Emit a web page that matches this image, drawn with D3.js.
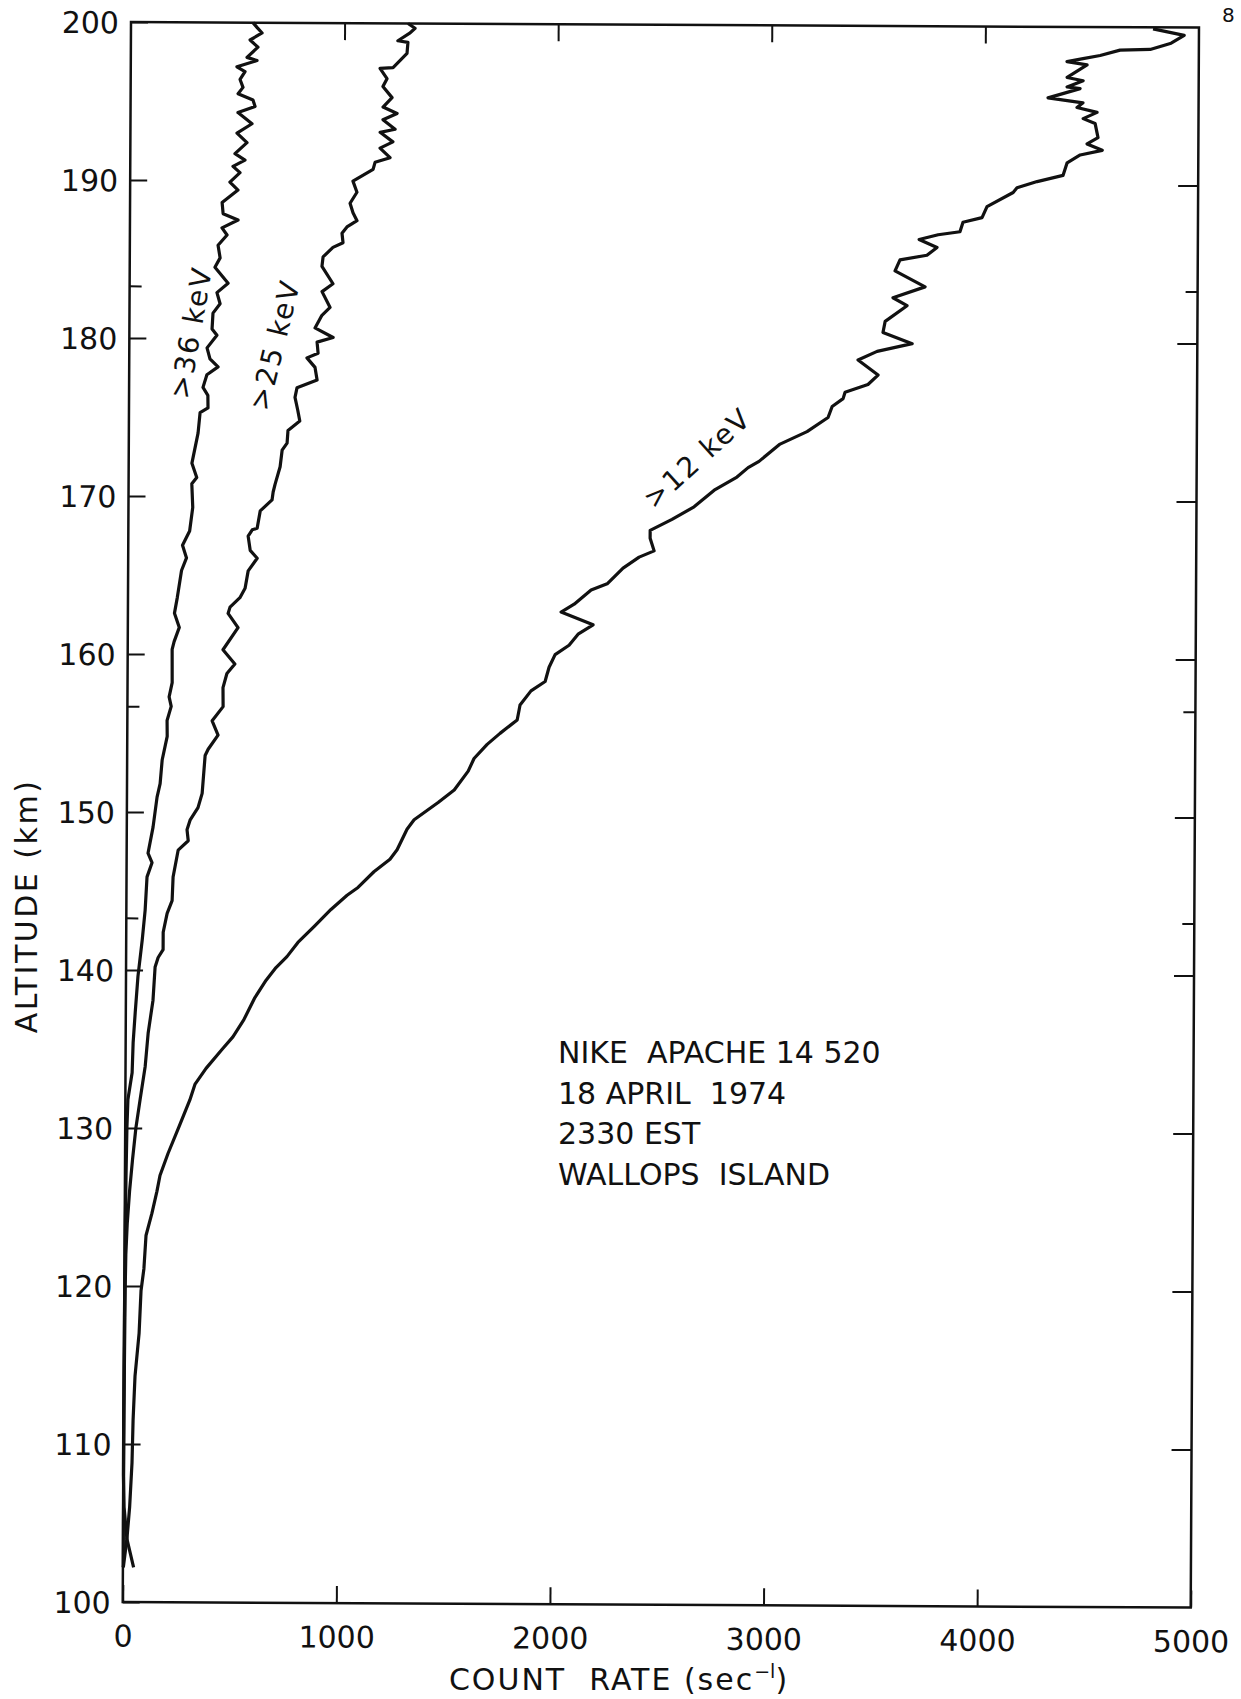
<!DOCTYPE html>
<html>
<head>
<meta charset="utf-8">
<script src="https://cdn.jsdelivr.net/npm/d3@7"></script>
<style>
    body { margin: 0; background: #fff; }
    svg text { font-family: "DejaVu Sans", sans-serif; fill: #111; }
</style>
</head>
<body>
<div id="chart"></div>
<script>
// >12 keV channel (altitude km, count rate per sec)
const altitude12 = [199.9, 199.5, 199.0, 198.6, 198.55, 198.2, 198.0, 197.8, 197.6, 196.8, 196.6, 196.2, 196.1, 195.5,
    195.2, 194.9, 194.6, 194.2, 193.9, 193.0, 192.6, 192.2, 191.9, 191.4, 190.6, 190.2, 189.8, 189.5, 188.6, 187.9,
    187.6, 187.0, 186.8, 186.5, 186.0, 185.5, 185.2, 184.5, 183.5, 182.8, 182.3, 181.3, 180.6, 179.9, 179.4, 178.85,
    177.9, 177.3, 176.8, 176.4, 175.9, 175.2, 174.3, 173.5, 172.4, 172.0, 171.4, 170.6, 169.5, 168.7, 168.0, 167.5,
    166.7, 166.3, 165.6, 164.6, 164.2, 163.3, 162.8, 162.0, 161.4, 160.7, 160.1, 159.3, 158.4, 157.8, 156.9, 156.6,
    155.95, 155.1, 154.4, 153.5, 152.7, 151.5, 150.7, 149.6, 149.0, 147.7, 147.1, 146.3, 145.3, 144.8, 143.9, 142.8,
    141.8, 140.9, 140.2, 139.4, 138.3, 136.9, 135.8, 135.0, 133.8, 132.8, 131.8, 130.1, 128.4, 127.0, 126.0, 124.6,
    123.2, 121.1, 119.7, 117.0, 114.3, 111.5, 108.8, 106.0, 104.0, 102.2];
const rate12 = [4785, 4931, 4870, 4772, 4631, 4538, 4458, 4383, 4477, 4384, 4459, 4384, 4445, 4295,
    4459, 4431, 4525, 4460, 4516, 4530, 4479, 4550, 4447, 4386, 4367, 4246, 4152, 4134, 4012, 3989,
    3900, 3886, 3784, 3695, 3779, 3732, 3606, 3583, 3724, 3574, 3640, 3538, 3528, 3665, 3501, 3412,
    3506, 3459, 3352, 3343, 3292, 3273, 3175, 3049, 2951, 2900, 2848, 2746, 2648, 2545, 2443, 2443,
    2462, 2392, 2317, 2243, 2168, 2089, 2028, 2178, 2108, 2066, 2001, 1973, 1955, 1889, 1838, 1834,
    1825, 1745, 1685, 1624, 1597, 1532, 1457, 1345, 1312, 1266, 1233, 1158, 1084, 1033, 958, 879,
    804, 753, 702, 656, 604, 553, 502, 451, 377, 326, 302, 252, 201, 164, 150, 127,
    100, 91, 78, 70, 52, 44, 40, 30, 18, 2];

// >25 keV channel
const altitude25 = [200.0, 199.7, 199.4, 198.9, 198.8, 198.1, 197.2, 197.15, 196.5, 196.0, 195.3, 194.7, 194.3, 193.9,
    193.3, 193.1, 192.5, 192.1, 191.5, 191.2, 190.75, 190.0, 189.3, 188.6, 188.0, 187.5, 187.1, 186.7, 186.1, 185.8,
    185.2, 184.6, 183.5, 183.0, 182.0, 181.5, 180.7, 180.1, 179.8, 179.1, 178.8, 178.2, 177.4, 176.9, 176.3, 175.5,
    174.8, 174.2, 173.4, 172.95, 171.9, 170.8, 170.3, 169.8, 169.1, 168.0, 167.9, 167.5, 166.6, 166.1, 165.3, 164.2,
    163.6, 163.0, 162.6, 161.7, 160.3, 159.4, 158.8, 157.9, 156.7, 155.8, 154.9, 154.0, 153.6, 151.2, 150.3, 149.5,
    148.9, 148.2, 147.6, 145.9, 144.4, 143.6, 142.4, 141.3, 140.8, 140.2, 138.1, 136.0, 133.9, 131.8, 130.0, 128.0,
    126.0, 124.0, 122.0, 120.0, 115.0, 110.0, 105.0, 102.2];
const rate25 = [1297, 1330, 1307, 1250, 1297, 1293, 1228, 1167, 1200, 1181, 1224, 1182, 1248, 1182,
    1239, 1169, 1229, 1169, 1216, 1146, 1137, 1043, 1062, 1030, 1044, 1063, 1016, 993, 998, 951,
    905, 900, 952, 901, 939, 901, 869, 954, 879, 884, 832, 870, 880, 786, 777, 790,
    800, 745, 741, 718, 709, 686, 677, 672, 617, 603, 580, 561, 571, 604, 562, 548,
    524, 478, 469, 516, 446, 502, 465, 447, 448, 397, 425, 379, 365, 352, 333, 296,
    282, 288, 241, 218, 214, 191, 173, 173, 150, 136, 127, 105, 92, 69, 50, 35,
    22, 12, 6, 4, 2, 1, 1, 2];

// >36 keV channel
const altitude36 = [200.0, 199.7, 199.35, 198.9, 198.45, 197.8, 197.6, 197.2, 196.9, 196.4, 195.9, 195.5, 195.1, 194.7,
    194.3, 193.6, 193.0, 192.4, 191.7, 191.3, 190.9, 190.5, 189.9, 189.4, 188.6, 187.9, 187.5, 187.0, 186.55, 185.9,
    185.1, 184.5, 183.5, 182.9, 182.2, 181.6, 180.6, 180.2, 179.4, 178.7, 178.2, 177.7, 176.9, 176.4, 175.6, 175.3,
    174.0, 172.1, 171.2, 170.8, 169.3, 167.8, 166.9, 166.1, 165.3, 163.6, 162.6, 161.7, 160.8, 160.3, 158.2, 157.3,
    156.7, 155.8, 154.8, 153.3, 151.8, 150.95, 149.05, 147.4, 146.8, 145.9, 143.8, 141.9, 139.6, 137.3, 135.4, 133.5,
    131.8, 130.0, 127.0, 124.0, 121.0, 118.0, 112.0, 108.0, 106.0, 104.0, 102.2];
const rate36 = [571, 590, 614, 558, 595, 544, 591, 497, 535, 512, 526, 503, 573, 583,
    503, 569, 499, 546, 490, 537, 481, 514, 467, 505, 431, 436, 506, 431, 455, 413,
    423, 399, 461, 409, 424, 391, 387, 410, 364, 378, 416, 364, 346, 369, 370, 333,
    324, 296, 319, 296, 301, 287, 254, 273, 250, 231, 218, 241, 217, 208, 209, 195,
    205, 186, 187, 164, 155, 141, 123, 100, 119, 96, 88, 75, 56, 44, 35, 31,
    12, 8, 5, 3, 2, 1, 0, 0, 4, 18, 50];

const xTicks = [0, 1000, 2000, 3000, 4000, 5000];
const yTicks = [100, 110, 120, 130, 140, 150, 160, 170, 180, 190, 200];
const minorYTicks = [143.3, 156.7, 183.3];

const curveLabels = [">36 keV", ">25 keV", ">12 keV"];
const infoLines = ["NIKE  APACHE 14 520", "18 APRIL  1974", "2330 EST", "WALLOPS  ISLAND"];

/**
 * Builds a list of points from two parallel arrays.
 */
function buildSeries(altitudes, rates) {
    return altitudes.map((alt, i) => ({ alt: alt, rate: rates[i] }));
}

function drawChart() {
    const width = 1241;
    const height = 1699;
    const plotW = 1068;
    const plotH = 1580;

    const svg = d3.select("#chart").append("svg")
        .attr("width", width)
        .attr("height", height)
        .style("background", "#fff");

    // the scanned frame is slightly tilted, so the whole plot is turned a little
    const plot = svg.append("g")
        .attr("transform", "translate(131,22) rotate(0.3)");

    const x = d3.scaleLinear().domain([0, 5000]).range([0, plotW]);
    const y = d3.scaleLinear().domain([100, 200]).range([plotH, 0]);

    const bottomAxis = plot.append("g")
        .attr("transform", `translate(0,${plotH})`)
        .call(d3.axisBottom(x).tickValues(xTicks).tickSize(-17).tickPadding(22).tickFormat(d3.format("d")));
    const leftAxis = plot.append("g")
        .call(d3.axisLeft(y).tickValues(yTicks).tickSize(-17).tickPadding(12).tickFormat(d3.format("d")));
    plot.append("g")
        .call(d3.axisTop(x).tickValues(xTicks.slice(1, -1)).tickSize(-17).tickFormat(""));
    plot.append("g")
        .attr("transform", `translate(${plotW},0)`)
        .call(d3.axisRight(y).tickValues(yTicks.slice(1, -1)).tickSize(-20).tickFormat(""));
    plot.append("g")
        .call(d3.axisLeft(y).tickValues(minorYTicks).tickSize(-12).tickFormat(""));
    plot.append("g")
        .attr("transform", `translate(${plotW},0)`)
        .call(d3.axisRight(y).tickValues(minorYTicks).tickSize(-12).tickFormat(""));

    plot.selectAll(".domain").remove();
    plot.selectAll(".tick line").attr("stroke", "#111").attr("stroke-width", 2);
    plot.selectAll(".tick text")
        .attr("font-family", "DejaVu Sans")
        .attr("font-size", 30)
        .attr("fill", "#111");
    leftAxis.selectAll(".tick text").attr("dy", "0.36em");
    bottomAxis.selectAll(".tick text").attr("dy", "0.75em");

    plot.append("rect")
        .attr("x", 0)
        .attr("y", 0)
        .attr("width", plotW)
        .attr("height", plotH)
        .attr("fill", "none")
        .attr("stroke", "#111")
        .attr("stroke-width", 2.5);

    const line = d3.line()
        .x(d => x(d.rate))
        .y(d => y(d.alt));

    const series = [
        buildSeries(altitude36, rate36),
        buildSeries(altitude25, rate25),
        buildSeries(altitude12, rate12)
    ];

    plot.selectAll(".curve")
        .data(series)
        .enter().append("path")
        .attr("class", "curve")
        .attr("d", line)
        .attr("fill", "none")
        .attr("stroke", "#111")
        .attr("stroke-width", 3.2)
        .attr("stroke-linejoin", "round");

    // labels written along each curve
    const labelPos = [
        { x: 189, y: 400, angle: -80 },
        { x: 268, y: 412, angle: -76 },
        { x: 654, y: 510, angle: -42 }
    ];
    svg.selectAll(".curve-label")
        .data(curveLabels)
        .enter().append("text")
        .attr("class", "curve-label")
        .attr("transform", (d, i) => `translate(${labelPos[i].x},${labelPos[i].y}) rotate(${labelPos[i].angle})`)
        .attr("font-size", 28)
        .attr("letter-spacing", 2)
        .style("white-space", "pre")
        .text(d => d);

    svg.selectAll(".info")
        .data(infoLines)
        .enter().append("text")
        .attr("class", "info")
        .attr("x", 558)
        .attr("y", (d, i) => 1063 + i * 40.5)
        .attr("font-size", 30)
        .style("white-space", "pre")
        .text(d => d);

    // axis titles
    svg.append("text")
        .attr("transform", "translate(37,906) rotate(-90)")
        .attr("text-anchor", "middle")
        .attr("font-size", 30)
        .attr("letter-spacing", 2.5)
        .text("ALTITUDE (km)");

    const xTitle = svg.append("text")
        .attr("x", 619)
        .attr("y", 1690)
        .attr("text-anchor", "middle")
        .attr("font-size", 30)
        .attr("letter-spacing", 2)
        .style("white-space", "pre");
    xTitle.append("tspan").text("COUNT  RATE (sec");
    xTitle.append("tspan").attr("dy", -12).attr("font-size", 19).attr("letter-spacing", 0).text("\u2212l");
    xTitle.append("tspan").attr("dy", 12).text(")");

    // page number at the corner of the scan
    svg.append("text")
        .attr("x", 1222)
        .attr("y", 22)
        .attr("font-size", 20)
        .text("8");
}

drawChart();
</script>
</body>
</html>
